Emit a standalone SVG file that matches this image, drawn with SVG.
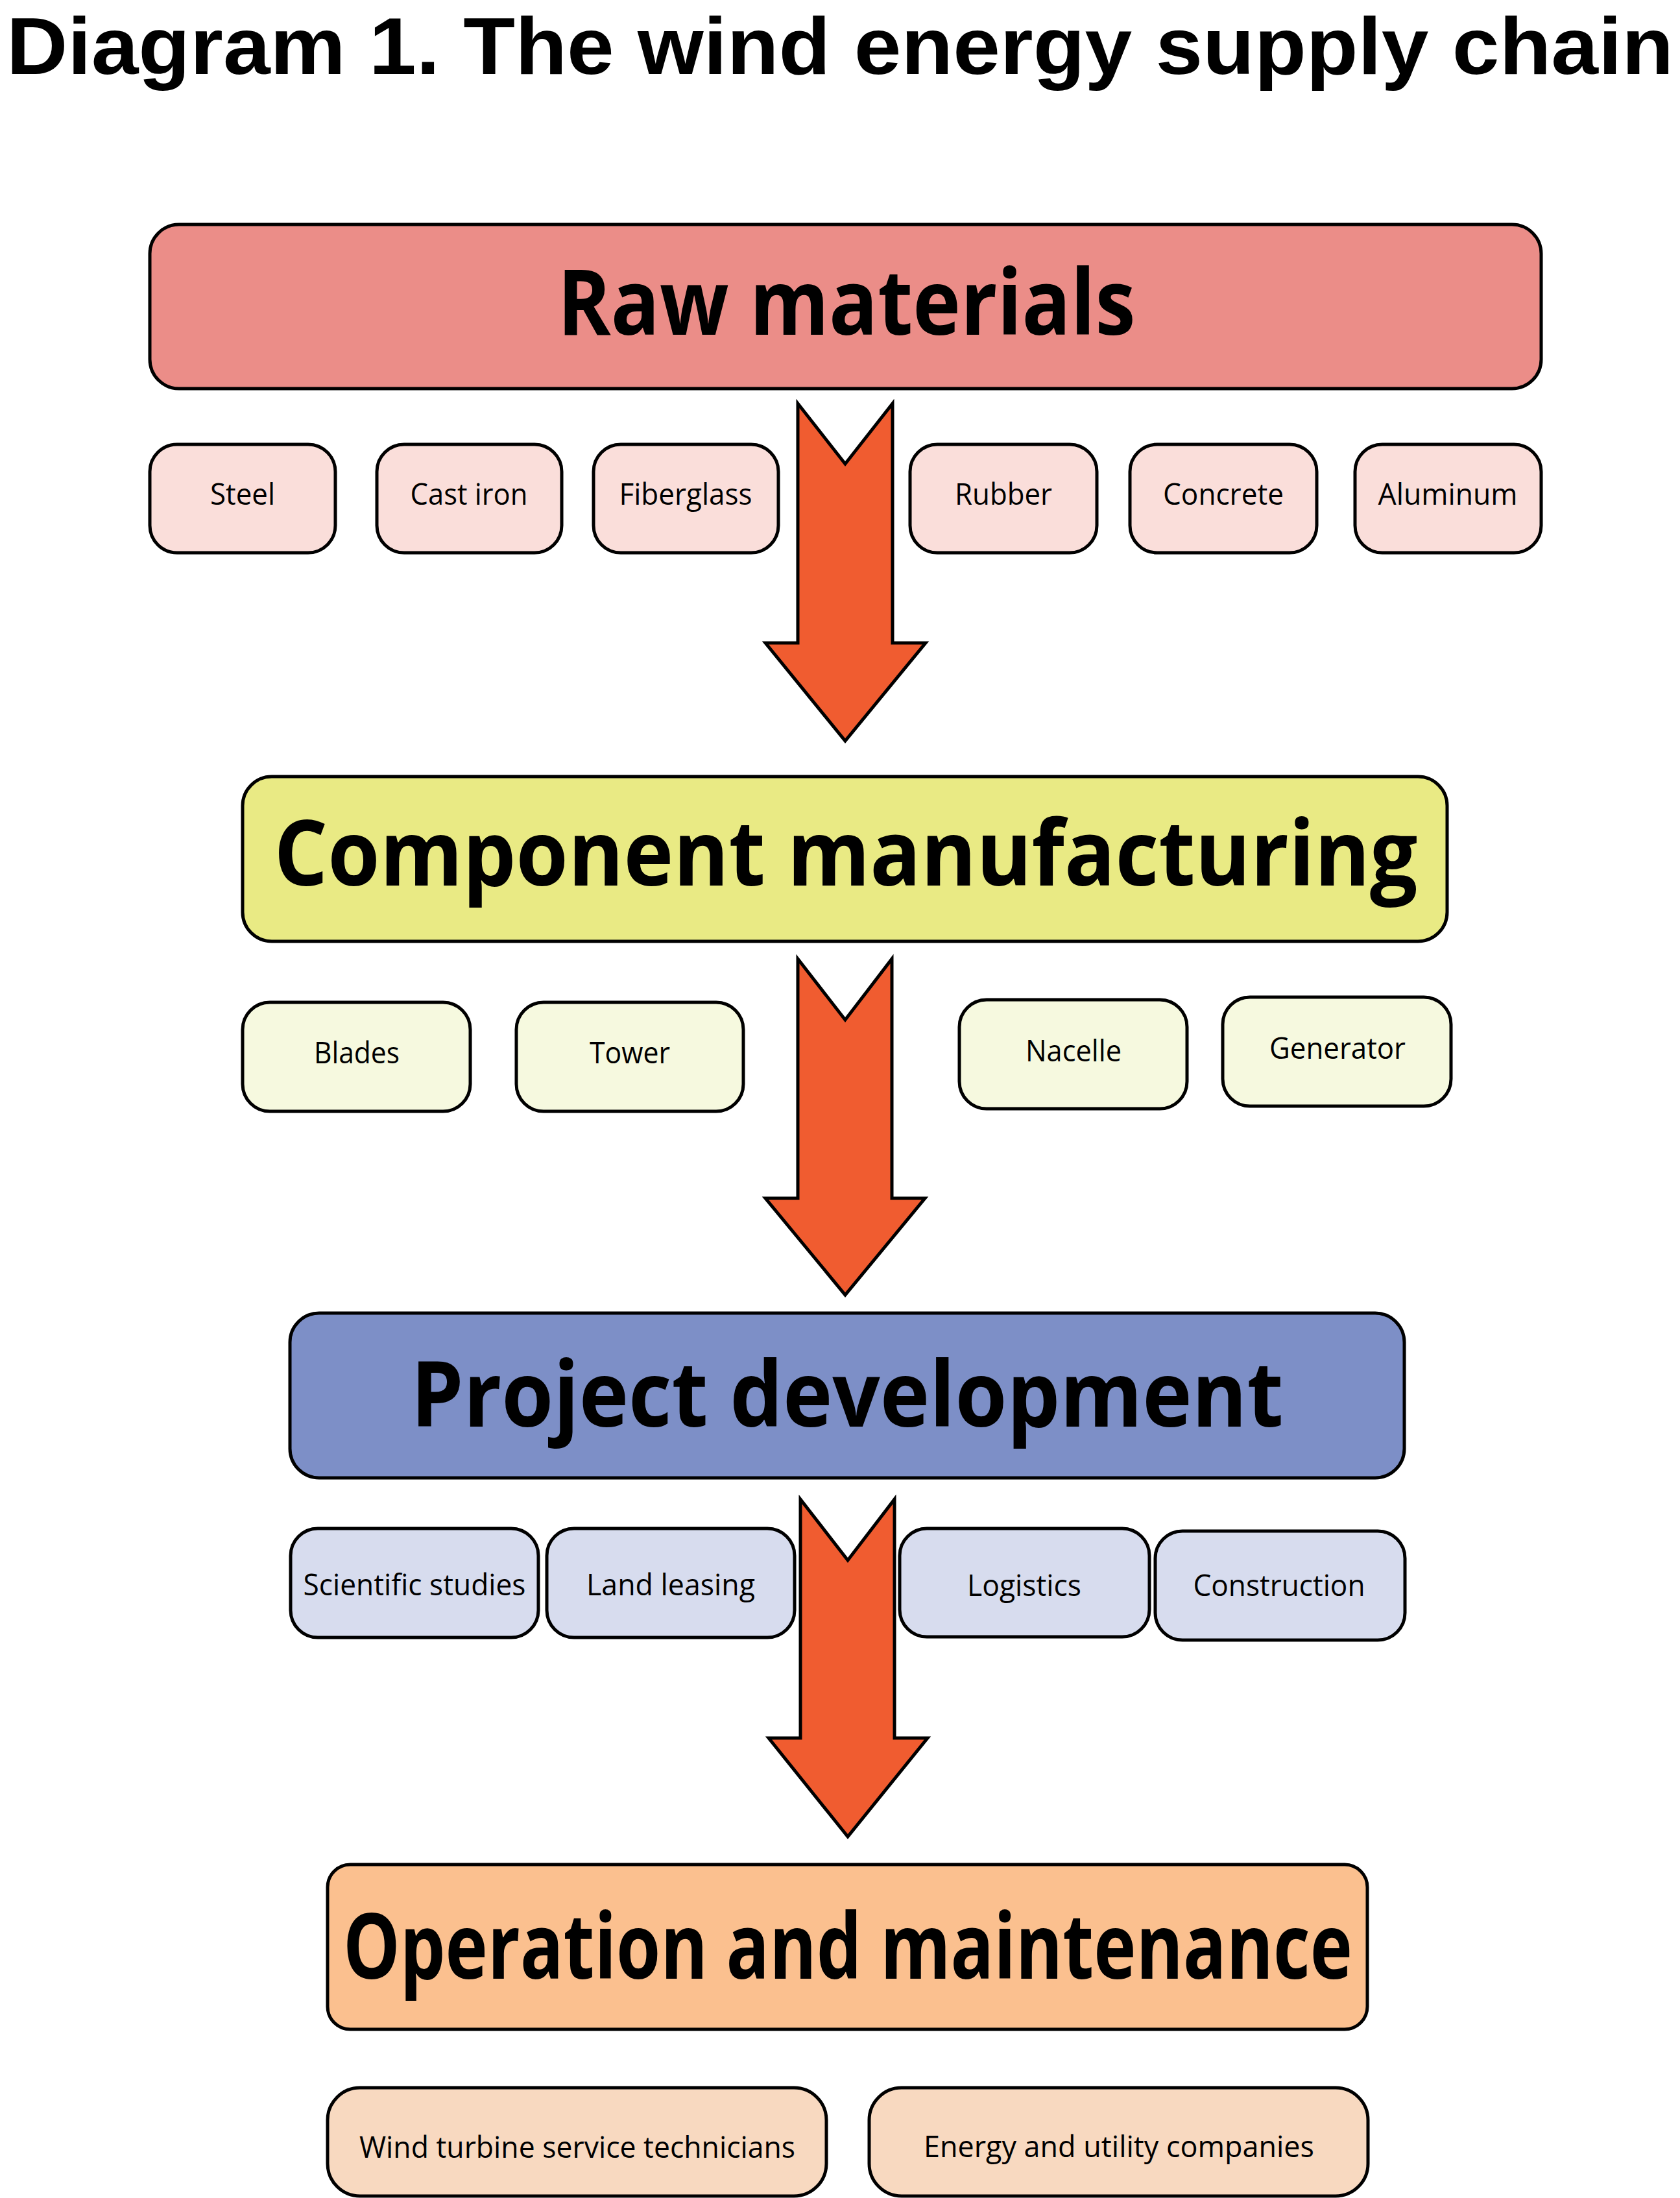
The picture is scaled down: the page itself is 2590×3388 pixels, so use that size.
<svg xmlns="http://www.w3.org/2000/svg" width="2590" height="3388" viewBox="0 0 2590 3388">
<style>
.big{stroke:#000;stroke-width:5}
.sm{stroke:#000;stroke-width:5}
.h{font-family:"Open Sans","Liberation Sans",sans-serif;font-weight:700;font-size:140px;fill:#000;text-anchor:middle}
.t{font-family:"Open Sans","Liberation Sans",sans-serif;font-weight:400;font-size:45px;fill:#000;text-anchor:middle}
.title{font-family:"Liberation Sans","Open Sans",sans-serif;font-weight:700;font-size:124px;fill:#000}
.arr{fill:#F05C30;stroke:#000;stroke-width:5;stroke-linejoin:miter}
.c1{fill:#EB8D88}.c1s{fill:#FADEDA}
.c2{fill:#E9EA84}.c2s{fill:#F6F9DF}
.c3{fill:#7D8FC7}.c3s{fill:#D7DCEE}
.c4{fill:#FBC08F}.c4s{fill:#F8D9C0}
</style>
<rect width="2590" height="3388" fill="#fff"/>
<text id="title" class="title" x="10" y="114" textLength="2570" lengthAdjust="spacingAndGlyphs">Diagram 1. The wind energy supply chain</text>

<g id="connectors">
<polygon class="arr" points="1230,622 1303,715 1376,622 1376,991 1427,991 1303,1142 1180,991 1230,991"/>
<polygon class="arr" points="1230,1478 1303,1572 1375,1478 1375,1847 1426,1847 1303,1996 1180,1847 1230,1847"/>
<polygon class="arr" points="1234,2311 1307,2405 1379,2311 1379,2679 1430,2679 1307,2831 1185,2679 1234,2679"/>
</g>

<g id="raw-materials">
<rect class="big c1" x="231" y="346" width="2145" height="253" rx="45"/>
<text class="h" x="1305" y="516" textLength="891" lengthAdjust="spacingAndGlyphs">Raw materials</text>
</g>
<g id="steel"><rect class="sm c1s" x="231" y="685" width="286" height="167" rx="42"/><text class="t" x="374" y="778" textLength="100" lengthAdjust="spacingAndGlyphs">Steel</text></g>
<g id="cast-iron"><rect class="sm c1s" x="581" y="685" width="285" height="167" rx="42"/><text class="t" x="723" y="778" textLength="181" lengthAdjust="spacingAndGlyphs">Cast iron</text></g>
<g id="fiberglass"><rect class="sm c1s" x="915" y="685" width="285" height="167" rx="42"/><text class="t" x="1057" y="778" textLength="205" lengthAdjust="spacingAndGlyphs">Fiberglass</text></g>
<g id="rubber"><rect class="sm c1s" x="1403" y="685" width="288" height="167" rx="42"/><text class="t" x="1547" y="778" textLength="150" lengthAdjust="spacingAndGlyphs">Rubber</text></g>
<g id="concrete"><rect class="sm c1s" x="1742" y="685" width="288" height="167" rx="42"/><text class="t" x="1886" y="778" textLength="186" lengthAdjust="spacingAndGlyphs">Concrete</text></g>
<g id="aluminum"><rect class="sm c1s" x="2089" y="685" width="287" height="167" rx="42"/><text class="t" x="2232" y="778" textLength="215" lengthAdjust="spacingAndGlyphs">Aluminum</text></g>

<g id="component-manufacturing">
<rect class="big c2" x="374" y="1197" width="1857" height="254" rx="45"/>
<text class="h" x="1304" y="1365" textLength="1763" lengthAdjust="spacingAndGlyphs">Component manufacturing</text>
</g>
<g id="blades"><rect class="sm c2s" x="374" y="1545" width="351" height="168" rx="42"/><text class="t" x="550" y="1639" textLength="132" lengthAdjust="spacingAndGlyphs">Blades</text></g>
<g id="tower"><rect class="sm c2s" x="796" y="1545" width="350" height="168" rx="42"/><text class="t" x="971" y="1639" textLength="124" lengthAdjust="spacingAndGlyphs">Tower</text></g>
<g id="nacelle"><rect class="sm c2s" x="1479" y="1541" width="351" height="168" rx="42"/><text class="t" x="1655" y="1636" textLength="148" lengthAdjust="spacingAndGlyphs">Nacelle</text></g>
<g id="generator"><rect class="sm c2s" x="1885" y="1537" width="352" height="168" rx="42"/><text class="t" x="2062" y="1632" textLength="210" lengthAdjust="spacingAndGlyphs">Generator</text></g>

<g id="project-development">
<rect class="big c3" x="447" y="2024" width="1718" height="254" rx="45"/>
<text class="h" x="1306" y="2199" textLength="1345" lengthAdjust="spacingAndGlyphs">Project development</text>
</g>
<g id="scientific-studies"><rect class="sm c3s" x="448" y="2356" width="382" height="168" rx="42"/><text class="t" x="639" y="2459" textLength="343" lengthAdjust="spacingAndGlyphs">Scientific studies</text></g>
<g id="land-leasing"><rect class="sm c3s" x="843" y="2356" width="382" height="168" rx="42"/><text class="t" x="1034" y="2459" textLength="260" lengthAdjust="spacingAndGlyphs">Land leasing</text></g>
<g id="logistics"><rect class="sm c3s" x="1387" y="2356" width="385" height="167" rx="42"/><text class="t" x="1579" y="2460" textLength="176" lengthAdjust="spacingAndGlyphs">Logistics</text></g>
<g id="construction"><rect class="sm c3s" x="1781" y="2360" width="385" height="168" rx="42"/><text class="t" x="1972" y="2460" textLength="265" lengthAdjust="spacingAndGlyphs">Construction</text></g>

<g id="operation-and-maintenance">
<rect class="big c4" x="505" y="2874" width="1603" height="254" rx="35"/>
<text class="h" x="1307" y="3050" textLength="1556" lengthAdjust="spacingAndGlyphs">Operation and maintenance</text>
</g>
<g id="wind-turbine-service-technicians"><rect class="sm c4s" x="505" y="3218" width="769" height="167" rx="50"/><text class="t" x="890" y="3326" textLength="672" lengthAdjust="spacingAndGlyphs">Wind turbine service technicians</text></g>
<g id="energy-and-utility-companies"><rect class="sm c4s" x="1340" y="3218" width="769" height="167" rx="50"/><text class="t" x="1725" y="3325" textLength="602" lengthAdjust="spacingAndGlyphs">Energy and utility companies</text></g>
</svg>
